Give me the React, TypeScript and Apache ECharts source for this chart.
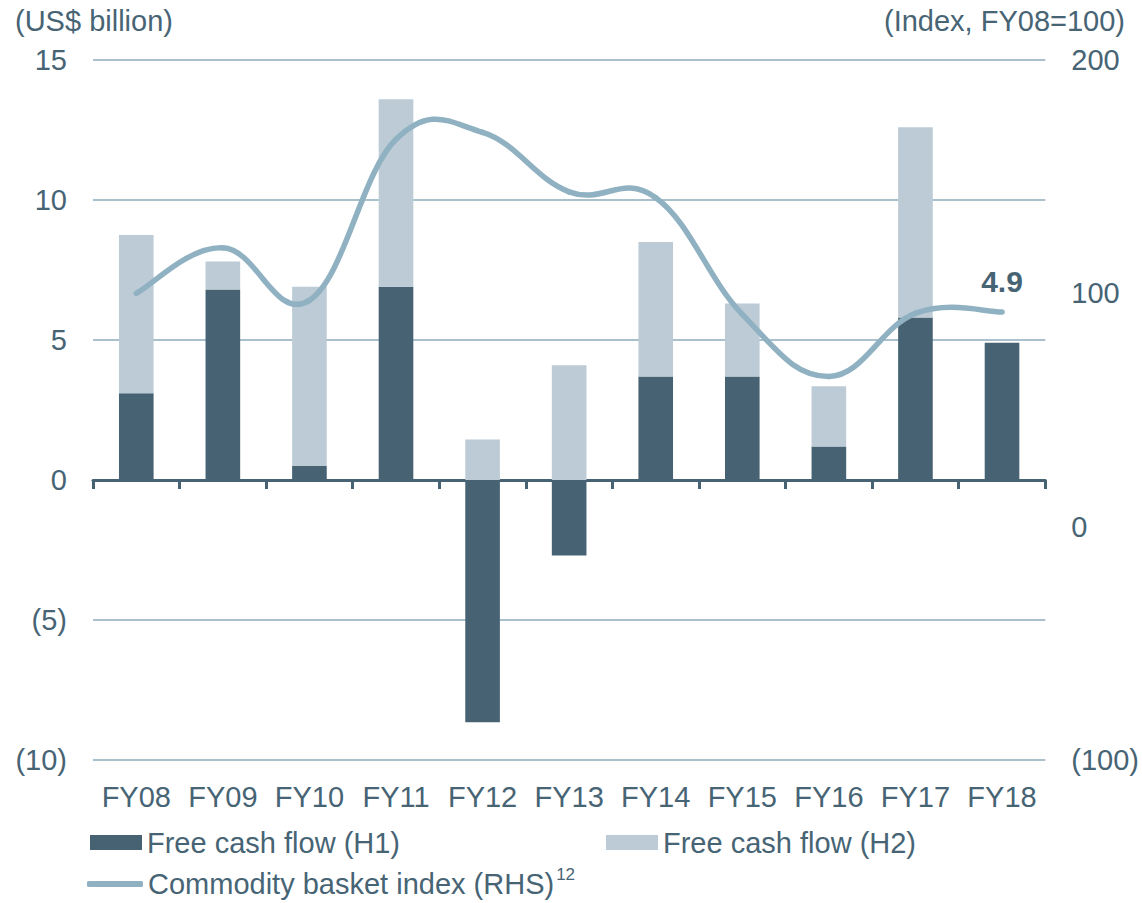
import React, { useEffect, useRef } from 'react';
import * as echarts from 'echarts';

const categories = ['FY08', 'FY09', 'FY10', 'FY11', 'FY12', 'FY13', 'FY14', 'FY15', 'FY16', 'FY17', 'FY18'];
const fcfH1 = [3.1, 6.8, 0.5, 6.9, -8.65, -2.7, 3.7, 3.7, 1.2, 5.8, 4.9];
const fcfH2 = [5.65, 1.0, 6.4, 6.7, 1.45, 4.1, 4.8, 2.6, 2.15, 6.8, null];
const commodityIndex = [100, 119.5, 97, 166, 169, 143.5, 141, 91, 64.4, 91.4, 92];

const seriesNames = ['Free cash flow (H1)', 'Free cash flow (H2)', 'Commodity basket index (RHS)'];

const DARK = '#476373';
const LIGHT = '#bccbd6';
const LINE = '#8fb1c1';
const TEXT = '#476475';
const GRID = '#8eabbb';
const FONT = '"Liberation Sans", Arial, sans-serif';
const FS = 29;

const fmtNeg = (v: number) => (v < 0 ? `(${Math.abs(v)})` : `${v}`);

export default function App() {
  const ref = useRef<HTMLDivElement>(null);
  useEffect(() => {
    if (!ref.current) return;
    const chart = echarts.init(ref.current, undefined, { renderer: 'svg' });
    const lastIdx = fcfH1.length - 1;
    const n = commodityIndex.length;
    const tension = 0.2;
    chart.setOption({
      animation: false,
      textStyle: { fontFamily: FONT, color: TEXT },
      title: [
        { text: '(US$ billion)', left: 15, top: 6, padding: 0, textStyle: { fontSize: FS, fontWeight: 'normal', color: TEXT, fontFamily: FONT } },
        { text: '(Index, FY08=100)', right: 17, top: 6, padding: 0, textStyle: { fontSize: FS, fontWeight: 'normal', color: TEXT, fontFamily: FONT } },
      ],
      legend: [
        {
          data: [seriesNames[0]], left: 90, top: 828, padding: 0, itemWidth: 52, itemHeight: 15,
          icon: 'rect', textStyle: { fontSize: FS, color: TEXT, fontFamily: FONT },
        },
        {
          data: [seriesNames[1]], left: 606, top: 828, padding: 0, itemWidth: 52, itemHeight: 15,
          icon: 'rect', textStyle: { fontSize: FS, color: TEXT, fontFamily: FONT },
        },
        {
          data: [{ name: seriesNames[2], itemStyle: { color: LINE } }], left: 87, top: 866, padding: 0,
          itemWidth: 56, itemHeight: 6, icon: 'roundRect',
          formatter: (name: string) => `{a|${name}}{s|12}`,
          textStyle: {
            fontSize: FS, color: TEXT, fontFamily: FONT,
            rich: {
              a: { fontSize: FS, color: TEXT, fontFamily: FONT, lineHeight: 36, verticalAlign: 'middle' },
              s: { fontSize: 17, color: TEXT, fontFamily: FONT, lineHeight: 4, verticalAlign: 'top', padding: [0, 0, 0, 2] },
            },
          },
        },
      ],
      grid: { left: 93, right: 95, top: 60, bottom: 143 },
      xAxis: [
        {
          type: 'category', data: categories,
          axisLine: { onZero: true, onZeroAxisIndex: 0, lineStyle: { color: DARK, width: 3 } },
          axisTick: { show: true, length: 9, lineStyle: { color: DARK, width: 3 } },
          axisLabel: { show: false },
        },
        {
          type: 'category', data: categories, position: 'bottom',
          axisLine: { show: false, onZero: false },
          axisTick: { show: false },
          axisLabel: { show: true, interval: 0, fontSize: FS, color: TEXT, fontFamily: FONT, margin: 22 },
        },
      ],
      yAxis: [
        {
          type: 'value', min: -10, max: 15, interval: 5,
          axisLine: { show: false }, axisTick: { show: false },
          axisLabel: { fontSize: FS, color: TEXT, fontFamily: FONT, margin: 26, formatter: fmtNeg },
          splitLine: { show: true, lineStyle: { color: GRID, width: 1.5 } },
        },
        {
          type: 'value', min: -100, max: 200, interval: 100, position: 'right',
          axisLine: { show: false }, axisTick: { show: false },
          axisLabel: { fontSize: FS, color: TEXT, fontFamily: FONT, margin: 26, formatter: fmtNeg },
          splitLine: { show: false },
        },
      ],
      series: [
        {
          name: seriesNames[0], type: 'bar', stack: 'fcf', xAxisIndex: 0, yAxisIndex: 0,
          barWidth: '40%', itemStyle: { color: DARK },
          data: fcfH1.map((v, i) =>
            i === lastIdx
              ? {
                  value: v,
                  label: {
                    show: true, position: 'top', distance: 46, formatter: () => `${v}`,
                    fontSize: 30, fontWeight: 'bold', color: TEXT, fontFamily: FONT,
                  },
                }
              : v
          ),
          z: 2,
        },
        {
          name: seriesNames[1], type: 'bar', stack: 'fcf', xAxisIndex: 0, yAxisIndex: 0,
          barWidth: '40%', itemStyle: { color: LIGHT }, data: fcfH2, z: 2,
        },
        {
          name: seriesNames[2], type: 'custom', xAxisIndex: 0, yAxisIndex: 1,
          data: commodityIndex.map((v, i) => [i, v]),
          encode: { x: 0, y: 1 },
          itemStyle: { color: LINE },
          z: 5,
          renderItem: (params: any, api: any) => {
            const i = params.dataIndex;
            if (i >= n - 1) return null;
            const pt = (k: number) => {
              const kk = Math.max(0, Math.min(n - 1, k));
              return api.coord([kk, commodityIndex[kk]]);
            };
            const p0 = pt(i - 1), p1 = pt(i), p2 = pt(i + 1), p3 = pt(i + 2);
            return {
              type: 'bezierCurve',
              shape: {
                x1: p1[0], y1: p1[1], x2: p2[0], y2: p2[1],
                cpx1: p1[0] + (p2[0] - p0[0]) * tension, cpy1: p1[1] + (p2[1] - p0[1]) * tension,
                cpx2: p2[0] - (p3[0] - p1[0]) * tension, cpy2: p2[1] - (p3[1] - p1[1]) * tension,
              },
              style: { stroke: LINE, lineWidth: 5.5, fill: 'none', lineCap: 'round' },
            };
          },
        },
      ],
    });
    return () => chart.dispose();
  }, []);
  return <div ref={ref} style={{ width: 1142, height: 903, position: 'absolute', left: 0, top: 0 }} />;
}
